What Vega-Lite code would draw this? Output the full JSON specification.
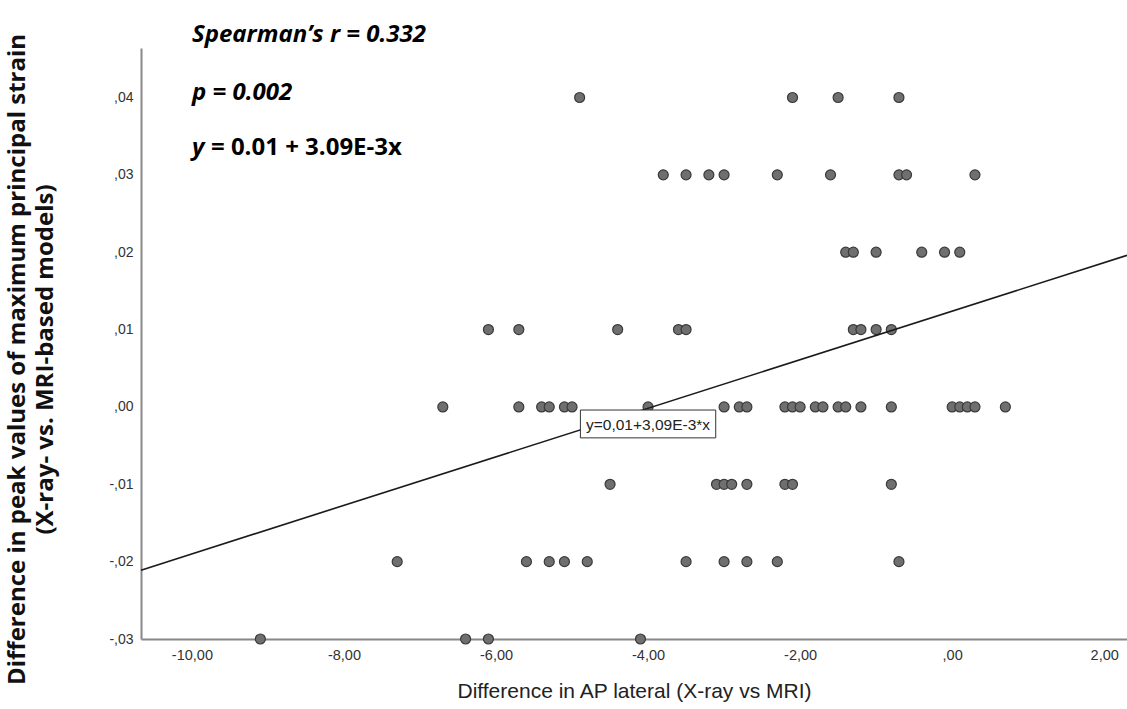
{
  "$schema": "https://vega.github.io/schema/vega-lite/v6.json",
  "width": 986,
  "height": 591,
  "autosize": "none",
  "padding": {"left": 141, "top": 48, "right": 0, "bottom": 70},
  "background": "white",
  "config": {"view": {"stroke": null}},
  "datasets": {
    "pts": [
      {"x": -4.9, "y": 0.04}, {"x": -2.1, "y": 0.04}, {"x": -1.5, "y": 0.04}, {"x": -0.7, "y": 0.04},
      {"x": -3.8, "y": 0.03}, {"x": -3.5, "y": 0.03}, {"x": -3.2, "y": 0.03}, {"x": -3.0, "y": 0.03}, {"x": -2.3, "y": 0.03}, {"x": -1.6, "y": 0.03}, {"x": -0.7, "y": 0.03}, {"x": -0.6, "y": 0.03}, {"x": 0.3, "y": 0.03},
      {"x": -1.4, "y": 0.02}, {"x": -1.3, "y": 0.02}, {"x": -1.0, "y": 0.02}, {"x": -0.4, "y": 0.02}, {"x": -0.1, "y": 0.02}, {"x": 0.1, "y": 0.02},
      {"x": -6.1, "y": 0.01}, {"x": -5.7, "y": 0.01}, {"x": -4.4, "y": 0.01}, {"x": -3.6, "y": 0.01}, {"x": -3.5, "y": 0.01}, {"x": -1.3, "y": 0.01}, {"x": -1.2, "y": 0.01}, {"x": -1.0, "y": 0.01}, {"x": -0.8, "y": 0.01},
      {"x": -6.7, "y": 0.0}, {"x": -5.7, "y": 0.0}, {"x": -5.4, "y": 0.0}, {"x": -5.3, "y": 0.0}, {"x": -5.1, "y": 0.0}, {"x": -5.0, "y": 0.0}, {"x": -4.0, "y": 0.0}, {"x": -3.0, "y": 0.0}, {"x": -2.8, "y": 0.0}, {"x": -2.7, "y": 0.0}, {"x": -2.2, "y": 0.0}, {"x": -2.1, "y": 0.0}, {"x": -2.0, "y": 0.0}, {"x": -1.8, "y": 0.0}, {"x": -1.7, "y": 0.0}, {"x": -1.5, "y": 0.0}, {"x": -1.4, "y": 0.0}, {"x": -1.2, "y": 0.0}, {"x": -0.8, "y": 0.0}, {"x": 0.0, "y": 0.0}, {"x": 0.1, "y": 0.0}, {"x": 0.2, "y": 0.0}, {"x": 0.3, "y": 0.0}, {"x": 0.7, "y": 0.0},
      {"x": -4.5, "y": -0.01}, {"x": -3.1, "y": -0.01}, {"x": -3.0, "y": -0.01}, {"x": -2.9, "y": -0.01}, {"x": -2.7, "y": -0.01}, {"x": -2.2, "y": -0.01}, {"x": -2.1, "y": -0.01}, {"x": -0.8, "y": -0.01},
      {"x": -7.3, "y": -0.02}, {"x": -5.6, "y": -0.02}, {"x": -5.3, "y": -0.02}, {"x": -5.1, "y": -0.02}, {"x": -4.8, "y": -0.02}, {"x": -3.5, "y": -0.02}, {"x": -3.0, "y": -0.02}, {"x": -2.7, "y": -0.02}, {"x": -2.3, "y": -0.02}, {"x": -0.7, "y": -0.02},
      {"x": -9.1, "y": -0.03}, {"x": -6.4, "y": -0.03}, {"x": -6.1, "y": -0.03}, {"x": -4.1, "y": -0.03}
    ],
    "fit": [
      {"x": -10.67, "y": -0.0211},
      {"x": 2.30, "y": 0.0196}
    ],
    "box": [
      {"x": -4.89, "x2": -3.11, "y": -0.0004, "y2": -0.0040, "cx": -4.0, "cy": -0.0023, "label": "y=0,01+3,09E-3*x"}
    ],
    "notes": [
      {"x": -10.0, "y": 0.0481, "label": "Spearman’s r = 0.332"},
      {"x": -10.0, "y": 0.0406, "label": "p = 0.002"},
      {"x": -10.0, "y": 0.0335, "label": "y"}
    ],
    "notes2": [
      {"x": -9.75, "y": 0.0335, "label": "= 0.01 + 3.09E-3x"}
    ]
  },
  "encoding": {
    "x": {
      "field": "x", "type": "quantitative",
      "scale": {"domain": [-10.67, 2.30], "nice": false, "zero": false},
      "axis": {
        "title": "Difference in AP lateral (X-ray vs MRI)",
        "values": [-10, -8, -6, -4, -2, 0, 2],
        "labelExpr": "datum.value == 0 ? ',00' : replace(replace(format(datum.value, '.2f'), '.', ','), '−', '-')",
        "grid": false, "ticks": false,
        "domainColor": "#888888", "domainWidth": 2,
        "labelFont": "Liberation Sans", "labelFontSize": 14.5, "labelColor": "#333333", "labelPadding": 9,
        "titleFont": "Liberation Sans", "titleFontSize": 21, "titleFontWeight": "normal", "titleColor": "#222222", "titlePadding": 19
      }
    },
    "y": {
      "field": "y", "type": "quantitative",
      "scale": {"domain": [-0.03, 0.0464], "nice": false, "zero": false},
      "axis": {
        "title": ["Difference in peak values of maximum principal strain", "(X-ray- vs. MRI-based models)"],
        "values": [-0.03, -0.02, -0.01, 0, 0.01, 0.02, 0.03, 0.04],
        "labelExpr": "replace(replace(replace(format(datum.value, '.2f'), '0.', '.'), '.', ','), '−', '-')",
        "grid": false, "ticks": false,
        "domainColor": "#888888", "domainWidth": 2,
        "labelFont": "Liberation Sans", "labelFontSize": 14, "labelColor": "#333333", "labelPadding": 8,
        "titleFont": "Open Sans", "titleFontSize": 24, "titleFontWeight": "bold", "titleColor": "#111111",
        "titleLineHeight": 28, "titlePadding": 51, "titleY": 311
      }
    }
  },
  "layer": [
    {
      "data": {"name": "pts"},
      "mark": {"type": "circle", "size": 100, "opacity": 1, "fill": "#6f6f6f", "stroke": "#3a3a3a", "strokeWidth": 1.2}
    },
    {
      "data": {"name": "fit"},
      "mark": {"type": "line", "color": "#1a1a1a", "strokeWidth": 1.6}
    },
    {
      "data": {"name": "box"},
      "mark": {"type": "rect", "fill": "white", "stroke": "#333333", "strokeWidth": 1},
      "encoding": {"x2": {"field": "x2"}, "y2": {"field": "y2"}}
    },
    {
      "data": {"name": "box"},
      "mark": {"type": "text", "font": "Liberation Sans", "fontSize": 15.5, "color": "#222222", "align": "center", "baseline": "middle"},
      "encoding": {"x": {"field": "cx", "type": "quantitative"}, "y": {"field": "cy", "type": "quantitative"}, "text": {"field": "label"}}
    },
    {
      "data": {"name": "notes"},
      "mark": {"type": "text", "font": "Open Sans", "fontSize": 24, "fontWeight": "bold", "fontStyle": "italic", "color": "#000000", "align": "left", "baseline": "middle", "clip": false},
      "encoding": {"text": {"field": "label"}}
    },
    {
      "data": {"name": "notes2"},
      "mark": {"type": "text", "font": "Open Sans", "fontSize": 24, "fontWeight": "bold", "color": "#000000", "align": "left", "baseline": "middle", "clip": false},
      "encoding": {"text": {"field": "label"}}
    }
  ]
}
